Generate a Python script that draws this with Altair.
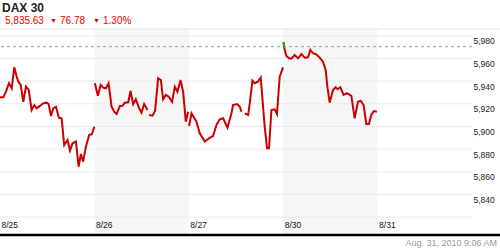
import altair as alt
import pandas as pd

# ---- data ----
day_labels = ["8/25", "8/26", "8/27", "8/30", "8/31"]
day_starts = [0, 1, 2, 3, 4]
shaded_start = [1, 3]
shaded_end = [2, 4]

t_0825 = [0.000, 0.035, 0.063, 0.095, 0.124, 0.151, 0.177, 0.194, 0.219, 0.247,
          0.275, 0.304, 0.335, 0.363, 0.388, 0.423, 0.458, 0.494, 0.515, 0.540,
          0.564, 0.593, 0.624, 0.653, 0.680, 0.716, 0.741, 0.769, 0.804, 0.833,
          0.857, 0.881, 0.910, 0.945, 0.974, 0.998]
v_0825 = [5925.7, 5925.7, 5930.7, 5938.1, 5933.7, 5952.2, 5943.9, 5939.5, 5936.6, 5921.8,
          5935.1, 5932.2, 5914.5, 5918.9, 5916.0, 5918.1, 5920.4, 5921.0, 5919.8, 5909.2,
          5916.0, 5917.4, 5907.7, 5907.2, 5883.6, 5888.1, 5878.6, 5885.1, 5886.6, 5864.5,
          5875.7, 5868.9, 5882.1, 5892.5, 5893.1, 5899.8]

t_0826a = [1.005, 1.037, 1.066, 1.093, 1.122, 1.150, 1.182, 1.210, 1.235, 1.270,
           1.298, 1.323, 1.358, 1.383, 1.411, 1.439, 1.474, 1.499, 1.527, 1.563]
v_0826a = [5938.1, 5927.1, 5936.6, 5934.2, 5933.7, 5938.1, 5917.4, 5913.0, 5911.0, 5918.1,
           5918.3, 5921.0, 5921.3, 5931.3, 5919.6, 5924.0, 5916.0, 5912.1, 5919.8, 5914.5]

t_0826b = [1.580, 1.616, 1.643, 1.675, 1.704, 1.728, 1.757, 1.788, 1.823, 1.852,
           1.880, 1.912, 1.940, 1.968, 1.993]
v_0826b = [5910.1, 5909.5, 5913.9, 5942.5, 5941.0, 5924.0, 5927.8, 5926.3, 5921.8, 5935.1,
           5930.7, 5941.0, 5930.7, 5904.2, 5913.0]

t_0827a = [2.003, 2.029, 2.081, 2.116, 2.169, 2.215, 2.257, 2.293, 2.328, 2.363,
           2.410, 2.452, 2.469, 2.511, 2.540, 2.558]
v_0827a = [5900.4, 5911.6, 5904.2, 5894.0, 5886.6, 5889.6, 5891.6, 5901.3, 5906.3, 5907.2,
           5898.9, 5911.6, 5918.9, 5919.8, 5917.4, 5913.0]

t_0827b = [2.593, 2.628, 2.646, 2.674, 2.698, 2.733, 2.762, 2.804, 2.829, 2.850,
           2.875, 2.910, 2.934, 2.963, 2.998]
v_0827b = [5911.6, 5910.1, 5920.4, 5940.4, 5938.1, 5939.5, 5943.0, 5899.8, 5880.7, 5880.7,
           5914.5, 5915.1, 5911.0, 5943.9, 5952.2]

t_0830 = [3.003, 3.012, 3.034, 3.061, 3.087, 3.122, 3.157, 3.193, 3.228, 3.262,
          3.288, 3.315, 3.351, 3.386, 3.421, 3.450, 3.468, 3.492, 3.527, 3.556,
          3.574, 3.605, 3.640, 3.675, 3.722, 3.757, 3.792, 3.820, 3.852, 3.880,
          3.908, 3.933, 3.961, 3.993]
v_0830 = [5974.5, 5969.0, 5962.2, 5960.1, 5959.8, 5963.1, 5960.1, 5963.9, 5960.7, 5961.0,
          5967.5, 5964.6, 5963.7, 5960.7, 5957.1, 5949.8, 5935.1, 5921.0, 5932.2, 5934.6,
          5932.8, 5934.6, 5927.8, 5929.3, 5926.9, 5907.2, 5921.8, 5922.7, 5918.9, 5902.2,
          5902.2, 5910.1, 5913.6, 5913.0]

prev_close = [5970.4]
grid_values = [5820, 5840, 5860, 5880, 5900, 5920, 5940, 5960, 5980]
label_values = [5840, 5860, 5880, 5900, 5920, 5940, 5960, 5980]

title_text = "DAX 30"
quote_parts = ["5,835.63", "▼", "76.78", "▼", "1.30%"]
timestamp_text = "Aug. 31, 2010 9:06 AM"

# ---- tables ----
segments = {
    "0825": (t_0825, v_0825),
    "0826a": (t_0826a, v_0826a),
    "0826b": (t_0826b, v_0826b),
    "0827a": (t_0827a, v_0827a),
    "0827b": (t_0827b, v_0827b),
    "0830": (t_0830, v_0830),
}
rows = []
for name, (ts, vs) in segments.items():
    for t, v in zip(ts, vs):
        rows.append({"t": t, "v": v, "seg": name})
df = pd.DataFrame(rows)
df_up = pd.DataFrame({"t": t_0830[:2], "v": v_0830[:2]})

W, H = 472, 207
FONT = "Liberation Sans"
x_scale = alt.Scale(domain=[0, 5], nice=False, zero=False)
y_scale = alt.Scale(domain=[5803.3, 5986], nice=False, zero=False)

bands = alt.Chart(pd.DataFrame({"s": shaded_start, "e": shaded_end})).mark_rect(
    color="#f6f6f6").encode(
    x=alt.X("s:Q", scale=x_scale, axis=None), x2="e:Q",
    y=alt.value(0), y2=alt.value(H))

grid = alt.Chart(pd.DataFrame({"g": grid_values})).mark_rule(
    color="#ebebeb", strokeWidth=1).encode(
    y=alt.Y("g:Q", scale=y_scale, axis=None))

ylabels = alt.Chart(pd.DataFrame({"g": label_values})).mark_text(
    align="left", baseline="top", dx=1.5, dy=1.5, fontSize=8.5, font=FONT, color="#222").encode(
    x=alt.value(W), y=alt.Y("g:Q", scale=y_scale, axis=None),
    text=alt.Text("g:Q", format=","))

top_line = alt.Chart(pd.DataFrame({"a": [0]})).mark_rule(
    color="#e6e6e6", strokeWidth=1).encode(
    x=alt.value(0), x2=alt.value(500), y=alt.value(0))

prev = alt.Chart(pd.DataFrame({"p": prev_close})).mark_rule(
    color="#999999", strokeWidth=1, strokeDash=[3, 3]).encode(
    y=alt.Y("p:Q", scale=y_scale, axis=None))

line = alt.Chart(df).mark_line(color="#cc0000", strokeWidth=2).encode(
    x=alt.X("t:Q", scale=x_scale, axis=None),
    y=alt.Y("v:Q", scale=y_scale, axis=None),
    detail="seg:N", order="t:Q")

up = alt.Chart(df_up).mark_line(color="#22aa22", strokeWidth=2).encode(
    x=alt.X("t:Q", scale=x_scale, axis=None),
    y=alt.Y("v:Q", scale=y_scale, axis=None))

dates = alt.Chart(pd.DataFrame({"d": day_starts, "lab": day_labels})).mark_text(
    align="left", baseline="middle", dx=1.5, fontSize=8.5, font=FONT, color="#111").encode(
    x=alt.X("d:Q", scale=x_scale, axis=None), y=alt.value(196), text="lab:N")

bottom = alt.Chart(pd.DataFrame({"a": [0]})).mark_rule(
    color="#000000", strokeWidth=2.5).encode(
    x=alt.value(0), x2=alt.value(500), y=alt.value(206))

stamp = alt.Chart(pd.DataFrame({"s": [timestamp_text]})).mark_text(
    align="right", baseline="middle", fontSize=9, font=FONT, color="#999999").encode(
    x=alt.value(497), y=alt.value(213.5), text="s:N")

title = alt.Chart(pd.DataFrame({"s": [title_text]})).mark_text(
    align="left", baseline="middle", fontSize=12, fontWeight="bold", font=FONT,
    color="#222").encode(x=alt.value(2), y=alt.value(-21), text="s:N")

quote_x = [5, 50, 60, 93, 103]
quote_size = [10, 7, 10, 7, 10]
quote = alt.Chart(pd.DataFrame({"s": quote_parts, "x": quote_x, "f": quote_size})).mark_text(
    align="left", baseline="middle", font=FONT, color="#e60000").encode(
    x=alt.X("x:Q", scale=alt.Scale(domain=[0, W], range=[0, W], nice=False), axis=None),
    y=alt.value(-8), text="s:N",
    size=alt.Size("f:Q", scale=None, legend=None))

chart = alt.layer(bands, top_line, grid, prev, line, up, dates, ylabels, bottom, stamp, title, quote).resolve_scale(
    x="independent").properties(
    width=W, height=H,
    padding={"left": 0, "top": 29, "right": 28, "bottom": 14},
    autosize=alt.AutoSizeParams(type="none"),
    background="white",
).configure_view(stroke=None)

chart.save("out.html", embed_options={"renderer": "svg", "actions": False})
